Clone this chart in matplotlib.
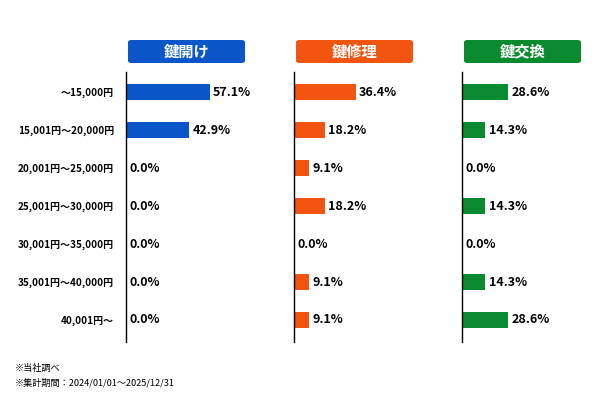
import matplotlib.pyplot as plt
import matplotlib.patches as patches

plt.rcParams['font.family'] = ['Noto Sans CJK JP', 'DejaVu Sans']

categories = ['～15,000円', '15,001円～20,000円', '20,001円～25,000円', '25,001円～30,000円',
              '30,001円～35,000円', '35,001円～40,000円', '40,001円～']
titles = ['鍵開け', '鍵修理', '鍵交換']
unlock = [57.1, 42.9, 0.0, 0.0, 0.0, 0.0, 0.0]
repair = [36.4, 18.2, 9.1, 18.2, 0.0, 9.1, 9.1]
replace = [28.6, 14.3, 0.0, 14.3, 0.0, 14.3, 28.6]

series = [unlock, repair, replace]
colors = ['#0A56C8', '#F2550F', '#0A8A2E']
xmax = [112, 97, 101]
lefts = [126, 294, 462]

W, H = 600, 400
fig = plt.figure(figsize=(6, 4), dpi=100)

for i in range(3):
    ax = fig.add_axes([lefts[i] / W, 1 - 342 / H, 164 / W, 270 / H])
    ypos = list(range(len(categories)))
    ax.barh(ypos, series[i], height=0.42, color=colors[i])
    ax.set_xlim(0, xmax[i])
    ax.set_ylim(6.58, -0.53)
    for s in ['top', 'right', 'bottom']:
        ax.spines[s].set_visible(False)
    ax.spines['left'].set_linewidth(1.0)
    ax.tick_params(left=False, bottom=False, labelbottom=False)
    if i == 0:
        ax.set_yticks(ypos)
        ax.set_yticklabels(categories, fontsize=7.2, fontweight='bold')
        ax.tick_params(axis='y', pad=5)
    else:
        ax.set_yticks([])
    for y, v in zip(ypos, series[i]):
        ax.annotate(f'{v:.1f}%', (v, y), xytext=(2.5, 0), textcoords='offset points',
                    ha='left', va='center', fontsize=9, fontweight='bold')

    # title box
    bx, by, bw, bh = lefts[i] + 2, 40, 117, 23
    box = patches.FancyBboxPatch((bx / W, 1 - (by + bh) / H), bw / W, bh / H,
                                 boxstyle='round,pad=0,rounding_size=0.006',
                                 transform=fig.transFigure, facecolor=colors[i],
                                 edgecolor='none')
    fig.patches.append(box)
    fig.text((bx + bw / 2) / W, 1 - (by + bh / 2) / H, titles[i], color='white',
             ha='center', va='center', fontsize=11, fontweight='bold')

fig.text(15 / W, 1 - 368 / H, '※当社調べ', fontsize=6.6, va='center')
fig.text(15 / W, 1 - 383 / H, '※集計期間：2024/01/01～2025/12/31', fontsize=6.6, va='center')

fig.savefig('out.png', dpi=100)
